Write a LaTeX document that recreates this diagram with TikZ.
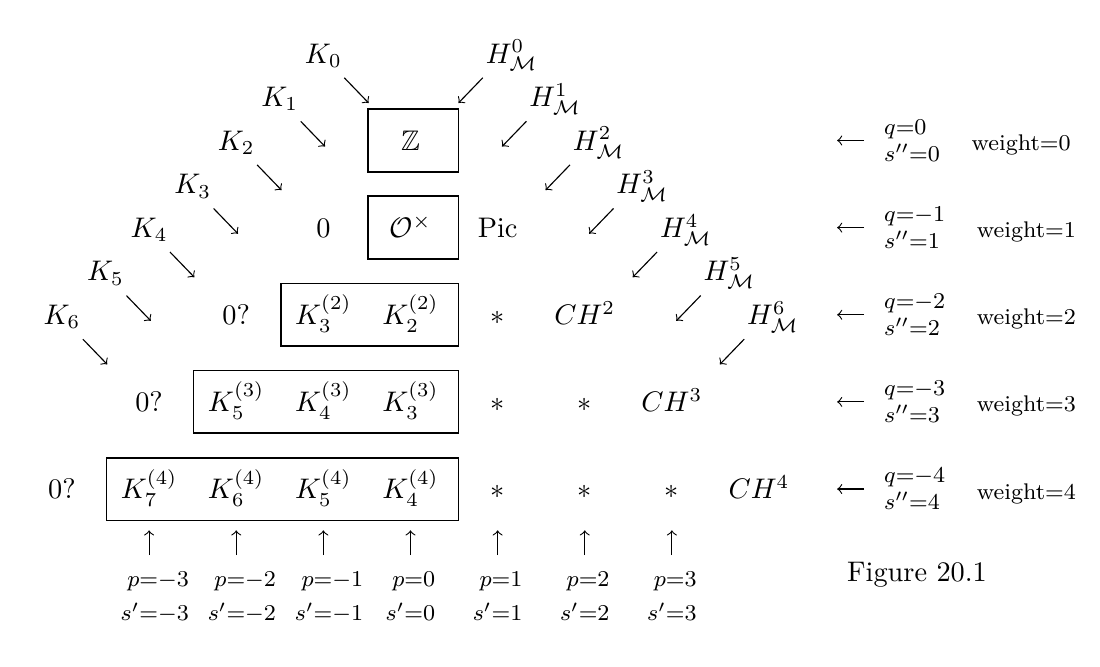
\documentclass[tikz,border=0pt]{standalone}
\usepackage{amsmath}
\usepackage{amssymb}
\usetikzlibrary{positioning}

\begin{document}
\begin{tikzpicture}[x=1.0814cm, y=1.0814cm,
  ent/.style={text height=1.6ex, text depth=0pt},
  box/.style={line width=0.6pt},
  lab/.style={font=\footnotesize, inner sep=0pt},
  darr/.style={->},
  uarr/.style={->, shorten <=5.9pt, shorten >=7.6pt}
]
  \useasboundingbox (-4.711,-6.031) rectangle (7.913,1.6125);
  % the two diagonals
  \foreach \n in {0,...,6} {
    \node[ent] (kd\n) at ({-1-\n/2},{1-\n/2}) {$K_{\n}$};
    \node[ent] (hd\n) at ({1.16+\n/2},{1-\n/2}) {$H^{\n}_{\mathcal{M}}$};
    \draw[darr] ([shift={(0.24,-0.28)}]kd\n.center) -- ++(0.28,-0.29);
    \draw[darr] ([shift={(-0.33,-0.28)}]hd\n.center) -- ++(-0.28,-0.29);
  }
  % rows
  \node[ent] (z)    at (0,0)   {$\mathbb{Z}$};
  \node[ent] (nil1) at (-1,-1) {$0$};
  \node[ent] (ox)   at (0,-1)  {$\mathcal{O}^{\times}$};
  \node[ent] (pic)  at (1,-1)  {$\mathrm{Pic}$};
  \node[ent] (nil2) at (-2,-2) {$0?$};
  \node[ent] (k32)  at (-1,-2) {$K_3^{(2)}$};
  \node[ent] (k22)  at (0,-2)  {$K_2^{(2)}$};
  \node[ent] (s21)  at (1,-2)  {$*$};
  \node[ent] (ch2)  at (2,-2)  {$CH^2$};
  \node[ent] (nil3) at (-3,-3) {$0?$};
  \node[ent] (k53)  at (-2,-3) {$K_5^{(3)}$};
  \node[ent] (k43)  at (-1,-3) {$K_4^{(3)}$};
  \node[ent] (k33)  at (0,-3)  {$K_3^{(3)}$};
  \node[ent] (s31)  at (1,-3)  {$*$};
  \node[ent] (s32)  at (2,-3)  {$*$};
  \node[ent] (ch3)  at (3,-3)  {$CH^3$};
  \node[ent] (nil4) at (-4,-4) {$0?$};
  \node[ent] (k74)  at (-3,-4) {$K_7^{(4)}$};
  \node[ent] (k64)  at (-2,-4) {$K_6^{(4)}$};
  \node[ent] (k54)  at (-1,-4) {$K_5^{(4)}$};
  \node[ent] (k44)  at (0,-4)  {$K_4^{(4)}$};
  \node[ent] (s41)  at (1,-4)  {$*$};
  \node[ent] (s42)  at (2,-4)  {$*$};
  \node[ent] (s43)  at (3,-4)  {$*$};
  \node[ent] (ch4)  at (4,-4)  {$CH^4$};
  \foreach \a/\b in {z/z, ox/ox, k32/k22, k53/k33, k74/k44}
    \draw[box] ([shift={(-0.49,0.36)}]\a.center) rectangle ([shift={(0.55,-0.36)}]\b.center);
  % weights on the right
  \foreach \q/\qq in {0/0, 1/-1, 2/-2, 3/-3, 4/-4} {
    \node[lab, anchor=west, align=left] (ql\q) at (5.43,-\q) {$q{=}{\qq}$\\$s''{=}\q$};
    \node[lab, right=0.38cm of ql\q, yshift=-1.6pt] (wt\q) {weight=\q};
    \draw[darr] (ql\q.west) ++(-0.224,0) -- ++(-0.31,0);
  }
  % columns at the bottom
  \foreach \i/\p/\x/\e in {1/-3/-2.935/k74, 2/-2/-1.935/k64, 3/-1/-0.935/k54, 4/0/0/k44,
                           5/1/1/s41, 6/2/2/s42, 7/3/3/s43} {
    \node[lab, anchor=north, align=right] (pl\i) at (\x,-4.95) {$p{=}{\p}$\\[2.5pt]$s'{=}{\p}$};
    \draw[uarr] (pl\i.north -| \e) -- (\e.south);
  }
  \node (cap) at (5.813,-4.98) {Figure 20.1};
\end{tikzpicture}
\end{document}
